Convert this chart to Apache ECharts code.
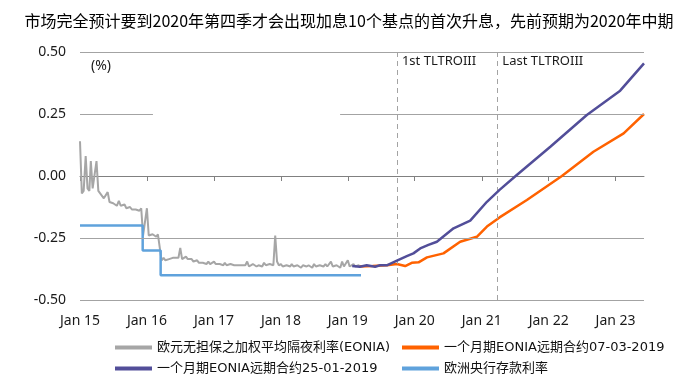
<!DOCTYPE html>
<html><head><meta charset="utf-8">
<script src="https://cdn.jsdelivr.net/npm/echarts@6/dist/echarts.min.js"></script>
<style>html,body{margin:0;padding:0;background:#fff}#c{width:698px;height:384px}</style>
</head><body><div id="c"></div>
<script>
const titleText = '市场完全预计要到2020年第四季才会出现加息10个基点的首次升息，先前预期为2020年中期';
const seriesNames = ['欧元无担保之加权平均隔夜利率(EONIA)', '一个月期EONIA远期合约07-03-2019', '一个月期EONIA远期合约25-01-2019', '欧洲央行存款利率'];
const xMinDate = '2015-01-01';
const xMaxDate = '2023-06-05';
const xTickDates = ['2015-01-01','2016-01-01','2017-01-01','2018-01-01','2019-01-01','2020-01-01','2021-01-01','2022-01-01','2023-01-01'];
const xTickLabels = ['Jan 15','Jan 16','Jan 17','Jan 18','Jan 19','Jan 20','Jan 21','Jan 22','Jan 23'];
const yTicks = [-0.5, -0.25, 0, 0.25, 0.5];

// EONIA: readings on the 1st, 11th and 21st of each month, Jan 2015 - Mar 2019
const eoniaFirstMonth = '2015-01';
const eoniaDays = [1, 11, 21];
const eoniaValues = [
  // 2015
  0.14,-0.07,-0.06, 0.08,-0.05,-0.06, 0.06,-0.05,-0.055, 0.06,-0.06,-0.07,
  -0.07,-0.09,-0.095, -0.065,-0.105,-0.11, -0.11,-0.115,-0.12, -0.10,-0.12,-0.125,
  -0.115,-0.13,-0.13, -0.125,-0.135,-0.14, -0.135,-0.14,-0.14, -0.13,-0.24,-0.235,
  // 2016
  -0.13,-0.24,-0.245, -0.235,-0.24,-0.245, -0.235,-0.24,-0.34, -0.33,-0.34,-0.335,
  -0.335,-0.34,-0.33, -0.33,-0.335,-0.33, -0.29,-0.335,-0.33, -0.325,-0.335,-0.34,
  -0.335,-0.345,-0.345, -0.34,-0.35,-0.345, -0.35,-0.35,-0.355, -0.345,-0.355,-0.35,
  // 2017
  -0.345,-0.355,-0.36, -0.355,-0.36,-0.36, -0.35,-0.36,-0.365, -0.355,-0.36,-0.36,
  -0.355,-0.36,-0.36, -0.36,-0.365,-0.36, -0.345,-0.365,-0.36, -0.355,-0.36,-0.365,
  -0.36,-0.36,-0.365, -0.35,-0.36,-0.365, -0.355,-0.36,-0.36, -0.24,-0.345,-0.36,
  // 2018
  -0.355,-0.365,-0.365, -0.36,-0.365,-0.365, -0.355,-0.365,-0.365, -0.36,-0.365,-0.37,
  -0.36,-0.365,-0.365, -0.36,-0.365,-0.37, -0.355,-0.365,-0.365, -0.36,-0.365,-0.365,
  -0.355,-0.365,-0.37, -0.345,-0.365,-0.365, -0.36,-0.365,-0.37, -0.345,-0.365,-0.365,
  // 2019
  -0.34,-0.365,-0.37, -0.355,-0.365,-0.37, -0.36,-0.365
];

const depositDates = ['2015-01-01','2015-12-09','2016-03-16','2019-03-14'];
const depositValues = [-0.20, -0.30, -0.40, -0.40];

const fwdJanDates = ['2019-01-25','2019-03-08','2019-04-14','2019-05-30','2019-06-26','2019-08-02','2019-09-26','2019-11-19','2019-12-25','2020-01-31','2020-03-16','2020-05-01','2020-07-31','2020-10-30','2021-01-29','2021-04-08','2021-07-11','2022-01-10','2022-07-28','2023-01-26','2023-06-05'];
const fwdJanValues = [-0.363,-0.366,-0.36,-0.366,-0.36,-0.36,-0.341,-0.323,-0.312,-0.292,-0.278,-0.265,-0.211,-0.18,-0.104,-0.056,0.004,0.118,0.246,0.344,0.454];

const fwdMarDates = ['2019-03-07','2019-05-15','2019-08-02','2019-09-26','2019-11-10','2019-12-16','2020-01-22','2020-03-08','2020-06-06','2020-09-05','2020-12-05','2021-01-29','2021-04-08','2021-09-04','2022-03-14','2022-09-02','2023-02-14','2023-06-05'];
const fwdMarValues = [-0.365,-0.363,-0.36,-0.355,-0.363,-0.35,-0.348,-0.328,-0.312,-0.265,-0.245,-0.204,-0.167,-0.097,0.0,0.098,0.172,0.25];

const tltroDates = ['2019-09-26','2021-03-27'];
const tltroLabels = ['1st TLTROIII','Last TLTROIII'];
// the 0.25 gridline is interrupted in the original between these dates
const gridGapDates = ['2016-02-03','2018-11-20'];

function ts(s) { const p = s.split('-').map(Number); return new Date(p[0], p[1] - 1, p[2] || 1).getTime(); }

const eoniaData = eoniaValues.map((v, i) => {
  const fm = eoniaFirstMonth.split('-').map(Number);
  const mIdx = fm[1] - 1 + Math.floor(i / 3);
  const d = new Date(fm[0], mIdx, eoniaDays[i % 3]).getTime();
  return [d, v];
});
const zip = (ds, vs) => ds.map((d, i) => [ts(d), vs[i]]);

const xMin = ts(xMinDate), xMax = ts(xMaxDate);
const tickTs = xTickDates.map(ts);
const gridColor = '#A3A3A3';
const fontLatin = '"Noto Sans", "Noto Sans CJK SC", sans-serif';
const fontCJK = '"Noto Sans CJK SC", sans-serif';
const fontLegend = '"DejaVu Sans", "Noto Sans CJK SC", sans-serif';

const gridLineData = [
  { yAxis: 0.5 }, { yAxis: -0.25 }, { yAxis: -0.5 },
  [{ coord: [xMin, 0.25] }, { coord: [ts(gridGapDates[0]), 0.25] }],
  [{ coord: [ts(gridGapDates[1]), 0.25] }, { coord: [xMax, 0.25] }]
];

const legendCommon = { orient: 'vertical', top: 336, height: 60, itemGap: 8, itemWidth: 37, itemHeight: 4, icon: 'rect',
  textStyle: { fontSize: 13, color: '#111', fontFamily: fontLegend } };

const chart = echarts.init(document.getElementById('c'));
chart.setOption({
  animation: false,
  backgroundColor: '#fff',
  title: { text: titleText, left: 'center', top: 8, textStyle: { fontSize: 16, fontWeight: 'normal', color: '#000', fontFamily: fontCJK } },
  grid: { left: 80, right: 54, top: 52, bottom: 84 },
  legend: [
    Object.assign({ data: [seriesNames[0], seriesNames[2]], left: 110 }, legendCommon),
    Object.assign({ data: [seriesNames[1], seriesNames[3]], left: 397 }, legendCommon)
  ],
  xAxis: [
    { type: 'value', min: xMin, max: xMax, scale: true,
      axisLine: { show: true, onZero: true, lineStyle: { color: '#808080', width: 1 } },
      axisTick: { show: true, length: 5, lineStyle: { color: '#808080' }, customValues: tickTs },
      axisLabel: { show: false }, splitLine: { show: false } },
    { type: 'value', min: xMin, max: xMax, scale: true, position: 'bottom',
      axisLine: { show: false, onZero: false }, axisTick: { show: false },
      axisLabel: { show: true, customValues: tickTs, margin: 14, fontSize: 14, color: '#1a1a1a', fontFamily: fontLatin,
        formatter: v => { const i = tickTs.indexOf(v); return i >= 0 ? xTickLabels[i] : ''; } },
      splitLine: { show: false } }
  ],
  yAxis: { type: 'value', min: yTicks[0], max: yTicks[yTicks.length - 1], interval: 0.25,
    axisLine: { show: false }, axisTick: { show: false }, splitLine: { show: false },
    axisLabel: { margin: 14, fontSize: 14, color: '#1a1a1a', fontFamily: fontLatin, formatter: v => v.toFixed(2) } },
  graphic: [
    { type: 'text', left: 91, top: 59, style: { text: '(%)', fontSize: 14, fill: '#1a1a1a', fontFamily: fontLatin } }
  ],
  series: [
    { name: 'grid', type: 'line', data: [], z: 1, silent: true,
      markLine: { silent: true, symbol: 'none', label: { show: false }, animation: false,
        lineStyle: { color: gridColor, type: 'solid', width: 1 }, data: gridLineData } },
    { name: 'tltro', type: 'line', data: [], z: 1, silent: true,
      markLine: { silent: true, symbol: 'none', label: { show: false }, animation: false,
        lineStyle: { color: gridColor, type: [5, 4], width: 1 }, data: tltroDates.map(d => ({ xAxis: ts(d) })) },
      markPoint: { silent: true, symbol: 'rect', symbolSize: 0, animation: false,
        label: { show: true, position: [5, 3], fontSize: 13, color: '#1a1a1a', fontFamily: fontLatin, formatter: p => p.name },
        data: tltroDates.map((d, i) => ({ name: tltroLabels[i], coord: [ts(d), 0.5] })) } },
    { name: seriesNames[0], type: 'line', data: eoniaData, showSymbol: false, z: 3,
      lineStyle: { color: '#A6A6A6', width: 2 }, itemStyle: { color: '#A6A6A6' } },
    { name: seriesNames[1], type: 'line', data: zip(fwdMarDates, fwdMarValues), showSymbol: false, z: 4,
      lineStyle: { color: '#FF6200', width: 2.5 }, itemStyle: { color: '#FF6200' } },
    { name: seriesNames[2], type: 'line', data: zip(fwdJanDates, fwdJanValues), showSymbol: false, z: 5,
      lineStyle: { color: '#524E99', width: 2.5 }, itemStyle: { color: '#524E99' } },
    { name: seriesNames[3], type: 'line', step: 'end', data: zip(depositDates, depositValues), showSymbol: false, z: 3,
      lineStyle: { color: '#5FA2DC', width: 2.5 }, itemStyle: { color: '#5FA2DC' } }
  ]
});
</script></body></html>
